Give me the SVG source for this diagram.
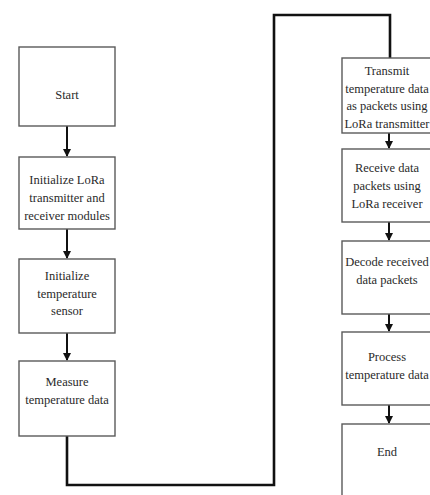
<svg xmlns="http://www.w3.org/2000/svg" width="430" height="495" viewBox="0 0 430 495">
<style>
.box{fill:#fff;stroke:#5a5a5a;stroke-width:1.4}
.t{font-family:'Liberation Serif','Times New Roman',Times,serif;font-size:12.5px;fill:#2a2a2a;text-anchor:middle}
.c{fill:none;stroke:#111;stroke-width:2.6}
.a{fill:none;stroke:#111;stroke-width:2}
</style>
<defs>
<marker id="ah" markerWidth="8" markerHeight="10" refX="7" refY="4" orient="auto" markerUnits="userSpaceOnUse" viewBox="0 0 8 8">
<path d="M0,0 L8,4 L0,8 z" fill="#111"/>
</marker>
</defs>
<rect width="430" height="495" fill="#fff"/>
<g id="connectors">
<line class="a" x1="67" y1="126" x2="67" y2="156" marker-end="url(#ah)"/>
<line class="a" x1="67" y1="229" x2="67" y2="258" marker-end="url(#ah)"/>
<line class="a" x1="67" y1="333" x2="67" y2="360" marker-end="url(#ah)"/>
<polyline class="c" points="67,436 67,485 274,485 274,15 390,15 390,58"/>
<line class="a" x1="389" y1="133" x2="389" y2="148" marker-end="url(#ah)"/>
<line class="a" x1="389" y1="222" x2="389" y2="240" marker-end="url(#ah)"/>
<line class="a" x1="389" y1="314" x2="389" y2="331" marker-end="url(#ah)"/>
<line class="a" x1="389" y1="405" x2="389" y2="423" marker-end="url(#ah)"/>
</g>
<g id="start">
<rect class="box" x="19" y="47" width="96" height="79"/>
<text class="t" x="67" y="99" font-family="Liberation Serif, serif">Start</text>
</g>
<g id="init-lora">
<rect class="box" x="19" y="157" width="96" height="72"/>
<text class="t" x="67" y="184" font-family="Liberation Serif, serif">Initialize LoRa</text>
<text class="t" x="67" y="202" font-family="Liberation Serif, serif">transmitter and</text>
<text class="t" x="67" y="220" font-family="Liberation Serif, serif">receiver modules</text>
</g>
<g id="init-sensor">
<rect class="box" x="19" y="259" width="96" height="74"/>
<text class="t" x="67" y="280" font-family="Liberation Serif, serif">Initialize</text>
<text class="t" x="67" y="298" font-family="Liberation Serif, serif">temperature</text>
<text class="t" x="67" y="315" font-family="Liberation Serif, serif">sensor</text>
</g>
<g id="measure">
<rect class="box" x="19" y="361" width="96" height="75"/>
<text class="t" x="67" y="386" font-family="Liberation Serif, serif">Measure</text>
<text class="t" x="67" y="404" font-family="Liberation Serif, serif">temperature data</text>
</g>
<g id="transmit">
<rect class="box" x="342" y="58" width="95" height="75"/>
<text class="t" x="387" y="75" font-family="Liberation Serif, serif">Transmit</text>
<text class="t" x="387" y="93" font-family="Liberation Serif, serif">temperature data</text>
<text class="t" x="387" y="110" font-family="Liberation Serif, serif">as packets using</text>
<text class="t" x="387" y="128" font-family="Liberation Serif, serif">LoRa transmitter</text>
</g>
<g id="receive">
<rect class="box" x="342" y="149" width="95" height="73"/>
<text class="t" x="387" y="172" font-family="Liberation Serif, serif">Receive data</text>
<text class="t" x="387" y="190" font-family="Liberation Serif, serif">packets using</text>
<text class="t" x="387" y="208" font-family="Liberation Serif, serif">LoRa receiver</text>
</g>
<g id="decode">
<rect class="box" x="342" y="241" width="95" height="73"/>
<text class="t" x="387" y="266" font-family="Liberation Serif, serif">Decode received</text>
<text class="t" x="387" y="284" font-family="Liberation Serif, serif">data packets</text>
</g>
<g id="process">
<rect class="box" x="342" y="332" width="95" height="73"/>
<text class="t" x="387" y="361" font-family="Liberation Serif, serif">Process</text>
<text class="t" x="387" y="379" font-family="Liberation Serif, serif">temperature data</text>
</g>
<g id="end">
<rect class="box" x="342" y="424" width="95" height="80"/>
<text class="t" x="387" y="456" font-family="Liberation Serif, serif">End</text>
</g>
</svg>
